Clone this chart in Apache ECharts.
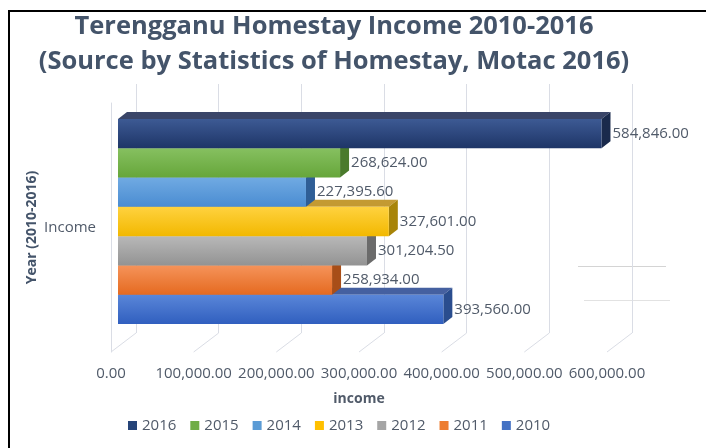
<!DOCTYPE html>
<html>
<head>
<meta charset="utf-8">
<style>
  html, body { margin: 0; padding: 0; background: #fff; overflow: hidden; }
  #chart { position: absolute; left: 0; top: 0; width: 706px; height: 448px; }
  #frame { position: absolute; left: 8px; top: 10px; width: 720px; height: 460px;
           border-top: 2px solid #000; border-left: 2px solid #000; pointer-events: none; }
</style>
<script src="https://cdn.jsdelivr.net/npm/echarts@6/dist/echarts.min.js"></script>
</head>
<body>
<div id="chart"></div>
<div id="frame"></div>
<script>
const categories = ['Income']
const years = ['2016', '2015', '2014', '2013', '2012', '2011', '2010']
const income = [584846.00, 268624.00, 227395.60, 327601.00, 301204.50, 258934.00, 393560.00]
const xTicks = [0, 100000, 200000, 300000, 400000, 500000, 600000]

// face colours, same order as years
const legendColors = ['#264478', '#70AD47', '#5B9BD5', '#FFC000', '#A5A5A5', '#ED7D31', '#4472C4']
const frontTop = ['#3D5A94', '#86C060', '#70AAE2', '#FFD23F', '#B8B8B8', '#F5935A', '#5A86D8']
const frontBottom = ['#1E3567', '#66A63A', '#4A8CD2', '#F2B800', '#939393', '#E56A20', '#305FBF']
const sideColors = ['#1A2A4C', '#4A7A2C', '#2F5E96', '#A88408', '#6B6B6B', '#A84E18', '#2A4D8E']
const topColors = ['#3A4568', '#5E8C40', '#4478B0', '#C49A32', '#8A8A8A', '#C0622A', '#4560A0']

const font = "'Open Sans', sans-serif"
const textColor = '#505A69'
const gridColor = '#DADDE5'
const depthX = 9
const depthY = -7

function money(v) {
  return Number(v).toLocaleString('en-US', { minimumFractionDigits: 2, maximumFractionDigits: 2 })
}

function barItem(i) {
  return function (params, api) {
    const start = api.coord([0, api.value(1)])
    const end = api.coord([api.value(0), api.value(1)])
    const band = api.size([0, 1])[1]
    const h = band / years.length
    const y0 = start[1] - band / 2 + i * h
    const x0 = start[0]
    const x1 = end[0]
    return {
      type: 'group',
      children: [
        {
          type: 'polygon',
          shape: { points: [[x0, y0], [x0 + depthX, y0 + depthY], [x1 + depthX, y0 + depthY], [x1, y0]] },
          style: { fill: topColors[i] }
        },
        {
          type: 'polygon',
          shape: { points: [[x1, y0], [x1 + depthX, y0 + depthY], [x1 + depthX, y0 + h + depthY], [x1, y0 + h]] },
          style: { fill: sideColors[i] }
        },
        {
          type: 'rect',
          shape: { x: x0, y: y0, width: x1 - x0, height: h },
          style: {
            fill: {
              type: 'linear', x: 0, y: 0, x2: 0, y2: 1,
              colorStops: [{ offset: 0, color: frontTop[i] }, { offset: 1, color: frontBottom[i] }]
            }
          }
        },
        {
          type: 'text',
          style: {
            text: money(api.value(0)),
            x: x1 + depthX + 2,
            y: y0 + h / 2,
            verticalAlign: 'middle',
            fill: textColor,
            font: '15px ' + font
          }
        }
      ]
    }
  }
}

function floorLine(params, api) {
  const p = api.coord([api.value(0), 0])
  const bottom = p[1] + api.size([0, 1])[1] / 2
  return {
    type: 'line',
    shape: { x1: p[0], y1: bottom, x2: p[0] + 25, y2: bottom - 19 },
    style: { stroke: gridColor, lineWidth: 1 }
  }
}

const barSeries = years.map(function (year, i) {
  return {
    name: year,
    type: 'custom',
    xAxisIndex: 0,
    yAxisIndex: 0,
    z: 20 - i,
    itemStyle: { color: legendColors[i] },
    renderItem: barItem(i),
    data: [[income[i], 0]]
  }
})

const chart = echarts.init(document.getElementById('chart'))
chart.setOption({
  backgroundColor: '#fff',
  animation: false,
  title: {
    text: 'Terengganu Homestay Income 2010-2016\n(Source by Statistics of Homestay, Motac 2016)',
    left: 334,
    top: 9,
    padding: 0,
    textAlign: 'center',
    textStyle: {
      fontFamily: font,
      fontWeight: 'bold',
      fontSize: 25.5,
      lineHeight: 35,
      color: '#44546A'
    }
  },
  legend: {
    data: years,
    left: 128,
    top: 418,
    padding: 0,
    icon: 'rect',
    itemWidth: 9,
    itemHeight: 9,
    itemGap: 14,
    textStyle: { fontFamily: font, fontSize: 15, color: textColor }
  },
  grid: [
    { left: 118, width: 496, top: 119, height: 205 },
    { left: 136, width: 496, top: 84, height: 249 },
    { left: 111, width: 496, top: 103, height: 249 }
  ],
  xAxis: [
    { gridIndex: 0, type: 'value', min: xTicks[0], max: xTicks[xTicks.length - 1], show: false },
    {
      gridIndex: 1, type: 'value', min: xTicks[0], max: xTicks[xTicks.length - 1], interval: xTicks[1] - xTicks[0],
      axisLine: { show: false }, axisTick: { show: false }, axisLabel: { show: false },
      splitLine: { show: true, lineStyle: { color: gridColor, width: 1 } }
    },
    {
      gridIndex: 2, type: 'value', min: xTicks[0], max: xTicks[xTicks.length - 1], interval: xTicks[1] - xTicks[0],
      axisLine: { show: false }, axisTick: { show: false }, splitLine: { show: false },
      axisLabel: { margin: 14, fontFamily: font, fontSize: 15, color: textColor, formatter: money },
      name: 'income',
      nameLocation: 'middle',
      nameGap: 40,
      nameTextStyle: { fontFamily: font, fontSize: 14, fontWeight: 'bold', color: textColor }
    }
  ],
  yAxis: [
    { gridIndex: 0, type: 'category', data: categories, show: false },
    { gridIndex: 1, type: 'value', show: false },
    {
      gridIndex: 2, type: 'category', data: categories,
      axisLine: { show: true, lineStyle: { color: gridColor, width: 1 } },
      axisTick: { show: false },
      axisLabel: { margin: 15, fontFamily: font, fontSize: 15, color: textColor },
      name: 'Year (2010-2016)',
      nameLocation: 'middle',
      nameGap: 72,
      nameMoveOverlap: false,
      nameTextStyle: { fontFamily: font, fontSize: 14, fontWeight: 'bold', color: '#44546A' }
    }
  ],
  graphic: [
    { type: 'line', shape: { x1: 578, y1: 266.5, x2: 666, y2: 266.5 }, style: { stroke: '#D4D4D4' } },
    { type: 'line', shape: { x1: 584, y1: 300.5, x2: 670, y2: 300.5 }, style: { stroke: '#E2E2E2' } }
  ],
  series: barSeries.concat([{
    name: 'floor',
    type: 'custom',
    xAxisIndex: 2,
    yAxisIndex: 2,
    z: 1,
    silent: true,
    renderItem: floorLine,
    data: xTicks.map(function (t) { return [t, 0] })
  }])
})
</script>
</body>
</html>
